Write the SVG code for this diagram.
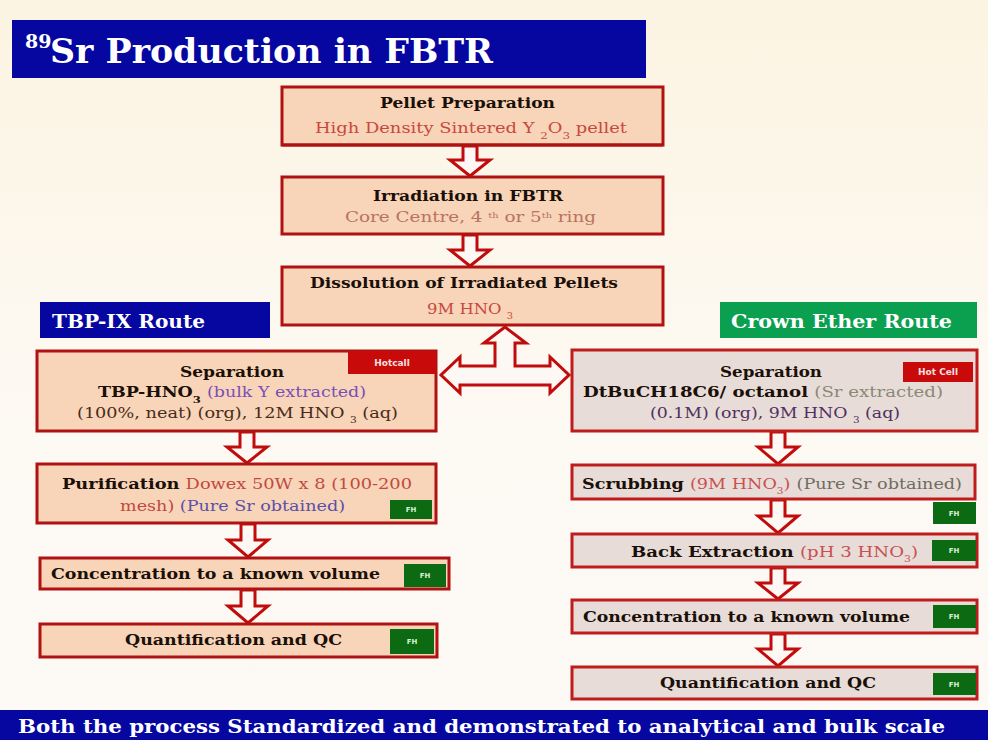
<svg xmlns="http://www.w3.org/2000/svg" width="988" height="740" viewBox="0 0 988 740">
<defs>
<linearGradient id="bg" x1="0" y1="0" x2="0" y2="1">
<stop offset="0" stop-color="#fcf4e2"/>
<stop offset="0.5" stop-color="#fdf9f2"/>
<stop offset="1" stop-color="#fcf9f6"/>
</linearGradient>
<style>
.b{font-family:"DejaVu Serif","Liberation Serif",serif;font-weight:bold;fill:#1a1008}
.n{font-family:"DejaVu Serif","Liberation Serif",serif;font-weight:normal}
.boxL{fill:#f8d4b8;stroke:#b01212;stroke-width:3}
.boxR{fill:#e8dcd8;stroke:#c01c1c;stroke-width:3}
.arr{fill:#fdf8f4;stroke:#c00c0c;stroke-width:3;stroke-linejoin:miter}
.fh{fill:#0b6a12}
.fht{font-family:"DejaVu Sans","Liberation Sans",sans-serif;font-size:7px;font-weight:bold;fill:#d8f0d8}
.hc{fill:#c80a0a}
.hct{font-family:"DejaVu Sans","Liberation Sans",sans-serif;font-size:9px;font-weight:bold;fill:#f8e0e0}
.red{fill:#c84840}
.wt{font-family:"DejaVu Serif","Liberation Serif",serif;font-weight:bold;fill:#ffffff}
</style>
</defs>
<rect x="0" y="0" width="988" height="740" fill="url(#bg)"/>

<g id="title">
<rect x="12" y="20" width="634" height="58" fill="#0606a0"/>
<text x="25" y="48" class="wt" font-size="19">89</text>
<text x="50" y="63" class="wt" font-size="34" textLength="443" lengthAdjust="spacingAndGlyphs">Sr Production in FBTR</text>
</g>

<g id="connectors">
<path class="arr" d="M463,146 L477,146 L477,160 L490,160 L470,176 L450,160 L463,160 Z"/>
<path class="arr" d="M463,235 L477,235 L477,250 L490,250 L470,266 L450,250 L463,250 Z"/>
<path class="arr" d="M505,327 L526,343 L515,343 L515,366 L550,366 L550,357 L569,375 L550,393 L550,385 L460,385 L460,393 L441,375 L460,357 L460,366 L495,366 L495,343 L484,343 Z"/>
<path class="arr" d="M240,432 L254,432 L254,447 L267,447 L247,463 L227,447 L240,447 Z"/>
<path class="arr" d="M241,524 L255,524 L255,540 L268,540 L248,557 L228,540 L241,540 Z"/>
<path class="arr" d="M241,590 L255,590 L255,606 L268,606 L248,623 L228,606 L241,606 Z"/>
<path class="arr" d="M771,432 L785,432 L785,447 L798,447 L778,464 L758,447 L771,447 Z"/>
<path class="arr" d="M771,500 L785,500 L785,516 L798,516 L778,533 L758,516 L771,516 Z"/>
<path class="arr" d="M771,568 L785,568 L785,583 L798,583 L778,599 L758,583 L771,583 Z"/>
<path class="arr" d="M771,634 L785,634 L785,649 L798,649 L778,666 L758,649 L771,649 Z"/>
</g>

<g id="pellet-preparation">
<rect class="boxL" x="282" y="87" width="381" height="58"/>
<line x1="282" y1="145" x2="663" y2="145" stroke="#b01212" stroke-width="3"/>
<text x="380" y="108" class="b" font-size="15" textLength="175" lengthAdjust="spacingAndGlyphs">Pellet Preparation</text>
<text x="315" y="133" class="n red" font-size="15" textLength="312" lengthAdjust="spacingAndGlyphs">High Density Sintered Y <tspan font-size="10" baseline-shift="sub">2</tspan>O<tspan font-size="10" baseline-shift="sub">3</tspan> pellet</text>
</g>

<g id="irradiation">
<rect class="boxL" x="282" y="177" width="381" height="57"/>
<text x="373" y="201" class="b" font-size="15" textLength="190" lengthAdjust="spacingAndGlyphs">Irradiation in FBTR</text>
<text x="345" y="222" class="n" fill="#b87262" font-size="15" textLength="251" lengthAdjust="spacingAndGlyphs">Core Centre, 4 <tspan font-size="8" baseline-shift="super">th</tspan> or 5<tspan font-size="8" baseline-shift="super">th</tspan> ring</text>
</g>

<g id="dissolution">
<rect class="boxL" x="282" y="267" width="381" height="58"/>
<text x="310" y="288" class="b" font-size="15" textLength="308" lengthAdjust="spacingAndGlyphs">Dissolution of Irradiated Pellets</text>
<text x="427" y="314" class="n red" font-size="15" textLength="86" lengthAdjust="spacingAndGlyphs">9M HNO <tspan font-size="9" baseline-shift="sub">3</tspan></text>
</g>

<g id="tbp-ix-route">
<rect x="40" y="302" width="230" height="36" fill="#0606a0"/>
<text x="52" y="328" class="wt" font-size="19" textLength="153" lengthAdjust="spacingAndGlyphs">TBP-IX Route</text>
</g>

<g id="crown-ether-route">
<rect x="720" y="302" width="257" height="36" fill="#0aa050"/>
<text x="731" y="328" class="wt" fill="#e8fff0" font-size="19" textLength="221" lengthAdjust="spacingAndGlyphs">Crown Ether Route</text>
</g>

<g id="separation-tbp">
<rect class="boxL" x="37" y="351" width="399" height="80"/>
<rect class="hc" x="348" y="351" width="88" height="23"/>
<text x="392" y="366" class="hct" text-anchor="middle">Hotcall</text>
<text x="180" y="377" class="b" font-size="15" textLength="104" lengthAdjust="spacingAndGlyphs">Separation</text>
<text x="98" y="397" class="b" font-size="15" textLength="268" lengthAdjust="spacingAndGlyphs">TBP-HNO<tspan font-size="10" baseline-shift="sub">3</tspan> <tspan class="n" fill="#7a50b8">(bulk Y extracted)</tspan></text>
<text x="77" y="418" class="n" fill="#4a2a1a" font-size="15" textLength="321" lengthAdjust="spacingAndGlyphs">(100%, neat) (org), 12M HNO  <tspan font-size="9" baseline-shift="sub">3</tspan> (aq)</text>
</g>

<g id="separation-crown">
<rect class="boxR" x="572" y="350" width="405" height="81"/>
<rect class="hc" x="903" y="362" width="70" height="20"/>
<text x="938" y="375" class="hct" text-anchor="middle">Hot Cell</text>
<text x="720" y="377" class="b" font-size="15" textLength="102" lengthAdjust="spacingAndGlyphs">Separation</text>
<text x="583" y="397" class="b" font-size="15" textLength="360" lengthAdjust="spacingAndGlyphs">DtBuCH18C6/ octanol <tspan class="n" fill="#8a8878">(Sr extracted)</tspan></text>
<text x="650" y="418" class="n" fill="#503060" font-size="15" textLength="250" lengthAdjust="spacingAndGlyphs">(0.1M) (org), 9M HNO  <tspan font-size="9" baseline-shift="sub">3</tspan> (aq)</text>
</g>

<g id="purification">
<rect class="boxL" x="37" y="464" width="399" height="59"/>
<text x="62" y="489" class="b" font-size="15" textLength="350" lengthAdjust="spacingAndGlyphs">Purification  <tspan class="n" fill="#c04a40">Dowex 50W x 8 (100-200</tspan></text>
<text x="120" y="511" class="n" font-size="15" textLength="225" lengthAdjust="spacingAndGlyphs"><tspan fill="#c04a40">mesh)</tspan> <tspan fill="#5a50a8">(Pure  Sr obtained)</tspan></text>
<rect class="fh" x="390" y="500" width="42" height="19"/>
<text x="411" y="512" class="fht" text-anchor="middle">FH</text>
</g>

<g id="concentration-tbp">
<rect class="boxL" x="40" y="558" width="409" height="31"/>
<text x="51" y="579" class="b" font-size="15" textLength="329" lengthAdjust="spacingAndGlyphs">Concentration to a known volume</text>
<rect class="fh" x="404" y="564" width="42" height="23"/>
<text x="425" y="578" class="fht" text-anchor="middle">FH</text>
</g>

<g id="quantification-tbp">
<rect class="boxL" x="40" y="624" width="397" height="33"/>
<text x="125" y="645" class="b" font-size="15" textLength="217" lengthAdjust="spacingAndGlyphs">Quantification and QC</text>
<rect class="fh" x="390" y="629" width="44" height="25"/>
<text x="412" y="644" class="fht" text-anchor="middle">FH</text>
</g>

<g id="scrubbing">
<rect class="boxR" x="572" y="465" width="403" height="34"/>
<text x="582" y="489" class="b" font-size="15" textLength="380" lengthAdjust="spacingAndGlyphs">Scrubbing  <tspan class="n" fill="#c85050">(9M HNO<tspan font-size="9" baseline-shift="sub">3</tspan>)</tspan> <tspan class="n" fill="#6e6c60">(Pure Sr obtained)</tspan></text>
<rect class="fh" x="933" y="502" width="43" height="22"/>
<text x="954" y="516" class="fht" text-anchor="middle">FH</text>
</g>

<g id="back-extraction">
<rect class="boxR" x="572" y="534" width="405" height="33"/>
<text x="631" y="557" class="b" font-size="15" textLength="287" lengthAdjust="spacingAndGlyphs">Back Extraction  <tspan class="n" fill="#c85050">(pH 3 HNO<tspan font-size="9" baseline-shift="sub">3</tspan>)</tspan></text>
<rect class="fh" x="932" y="540" width="44" height="21"/>
<text x="954" y="553" class="fht" text-anchor="middle">FH</text>
</g>

<g id="concentration-crown">
<rect class="boxR" x="572" y="600" width="405" height="33"/>
<text x="583" y="622" class="b" font-size="15" textLength="327" lengthAdjust="spacingAndGlyphs">Concentration to a known volume</text>
<rect class="fh" x="933" y="605" width="43" height="23"/>
<text x="954" y="619" class="fht" text-anchor="middle">FH</text>
</g>

<g id="quantification-crown">
<rect class="boxR" x="572" y="667" width="405" height="32"/>
<text x="660" y="688" class="b" font-size="15" textLength="216" lengthAdjust="spacingAndGlyphs">Quantification and QC</text>
<rect class="fh" x="933" y="673" width="43" height="22"/>
<text x="954" y="687" class="fht" text-anchor="middle">FH</text>
</g>

<g id="footer">
<rect x="0" y="710" width="988" height="30" fill="#0606a0"/>
<text x="18" y="733" class="wt" font-size="18" textLength="927" lengthAdjust="spacingAndGlyphs">Both the process Standardized and demonstrated to analytical and bulk scale</text>
</g>
</svg>
